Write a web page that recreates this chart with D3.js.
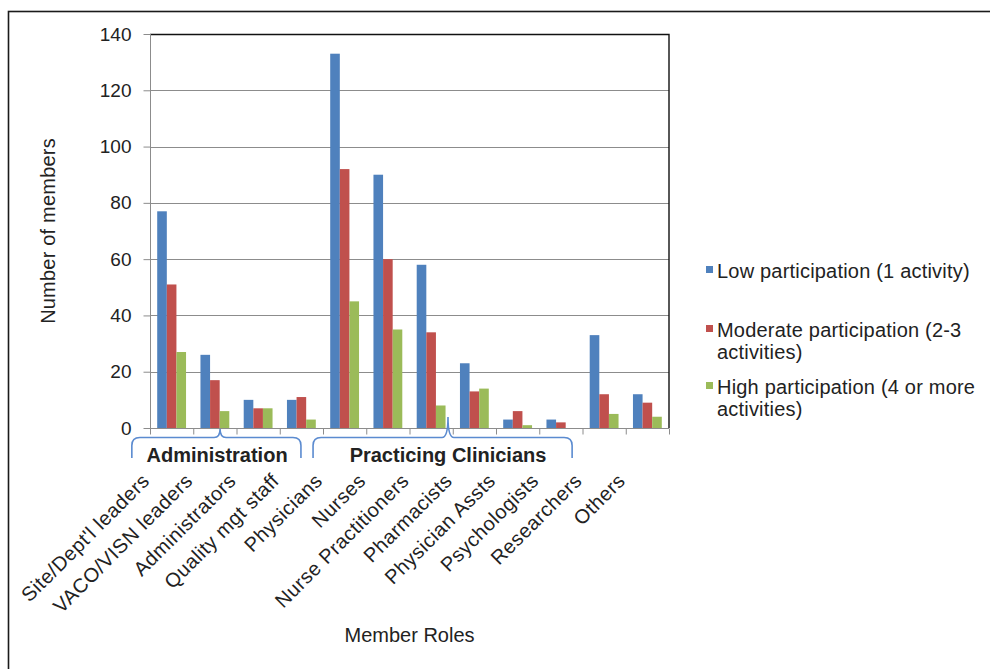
<!DOCTYPE html>
<html>
<head>
<meta charset="utf-8">
<script src="https://cdn.jsdelivr.net/npm/d3@7"></script>
<style>
  html, body { margin: 0; padding: 0; background: #fff; }
  svg { display: block; font-family: "Liberation Sans", Arial, sans-serif; }
</style>
</head>
<body>
<svg id="chart" width="990" height="669"></svg>
<script>
// Member roles along the category axis
const categories = [
  "Site/Dept'l leaders", "VACO/VISN leaders", "Administrators", "Quality mgt staff",
  "Physicians", "Nurses", "Nurse Practitioners", "Pharmacists",
  "Physician Assts", "Psychologists", "Researchers", "Others"
];

// Participation levels (series)
const seriesNames = ["low", "moderate", "high"];
const lowValues      = [77, 26, 10, 10, 133, 90, 58, 23, 3, 3, 33, 12];
const moderateValues = [51, 17,  7, 11,  92, 60, 34, 13, 6, 2, 12,  9];
const highValues     = [27,  6,  7,  3,  45, 35,  8, 14, 1, 0,  5,  4];

const legendLines = [
  ["Low participation (1 activity)"],
  ["Moderate participation (2-3", "activities)"],
  ["High participation (4 or more", "activities)"]
];

const yTicks = [0, 20, 40, 60, 80, 100, 120, 140];

// Role groupings shown as braces under the axis (positions in category units)
const groupNames = ["Administration", "Practicing Clinicians"];
const groupStart = [-0.42, 3.77];
const groupEnd   = [3.49, 9.76];
const groupPeak  = [1.62, 6.89];

const colors = { low: "#4F81BD", moderate: "#C0504D", high: "#9BBB59" };
const seriesValues = { low: lowValues, moderate: moderateValues, high: highValues };

const svg = d3.select("#chart");
const plotLeft = 150, plotRight = 669, plotTop = 34, plotBottom = 428;

// outer chart frame
svg.append("rect")
  .attr("x", 8.5).attr("y", 11.5)
  .attr("width", 1000).attr("height", 700)
  .attr("fill", "#fff").attr("stroke", "#1a1a1a").attr("stroke-width", 1.6);

const x = d3.scaleBand().domain(categories).range([plotLeft, plotRight]).padding(0);
const x1 = d3.scaleBand().domain(seriesNames).range([0, x.bandwidth()])
  .paddingInner(0).paddingOuter(0.75);
const xIdx = d3.scaleLinear().domain([0, categories.length]).range([plotLeft, plotRight]);
const y = d3.scaleLinear().domain([0, 140]).range([plotBottom, plotTop]);

// horizontal gridlines
svg.append("g").selectAll("line")
  .data(yTicks.filter(t => t > 0 && t < 140))
  .join("line")
  .attr("x1", plotLeft).attr("x2", plotRight)
  .attr("y1", d => Math.round(y(d)) + 0.5).attr("y2", d => Math.round(y(d)) + 0.5)
  .attr("stroke", "#8c8c8c").attr("stroke-width", 1);

// plot area border (top and right)
svg.append("path")
  .attr("d", `M${plotLeft},${Math.round(y(140)) + 0.5}H${plotRight}V${plotBottom}`)
  .attr("fill", "none").attr("stroke", "#111").attr("stroke-width", 1.4);

// bars
const groups = svg.append("g").selectAll("g")
  .data(categories)
  .join("g")
  .attr("transform", d => `translate(${x(d)},0)`);

groups.selectAll("rect")
  .data((c, i) => seriesNames.map(s => ({ s, v: seriesValues[s][i] })))
  .join("rect")
  .attr("x", d => x1(d.s))
  .attr("width", x1.bandwidth())
  .attr("y", d => y(d.v))
  .attr("height", d => plotBottom - y(d.v))
  .attr("fill", d => colors[d.s]);

// y axis
const yAxis = svg.append("g")
  .attr("transform", `translate(${plotLeft + 0.5},0)`)
  .call(d3.axisLeft(y).tickValues(yTicks).tickSize(7).tickPadding(12).tickFormat(d3.format("d")));
yAxis.select(".domain").attr("stroke", "#8c8c8c").attr("d", `M0,${plotTop}V${plotBottom + 6}`);
yAxis.selectAll(".tick line").attr("stroke", "#8c8c8c");
yAxis.selectAll(".tick text")
  .attr("font-size", 19).attr("fill", "#222")
  .attr("font-family", "Liberation Sans, Arial, sans-serif");

// x axis with tick marks between categories
const xAxis = svg.append("g")
  .attr("transform", `translate(0,${plotBottom + 0.5})`)
  .call(d3.axisBottom(xIdx).ticks(categories.length).tickSize(6).tickFormat(""));
xAxis.select(".domain").attr("stroke", "#8c8c8c").attr("d", `M${plotLeft},0H${plotRight}`);
xAxis.selectAll(".tick line").attr("stroke", "#8c8c8c");

// rotated category labels
svg.append("g").selectAll("text")
  .data(categories)
  .join("text")
  .attr("transform", d => `translate(${x(d) + x.bandwidth() / 2 - 21},482) rotate(-45)`)
  .attr("text-anchor", "end")
  .attr("font-size", 20)
  .attr("letter-spacing", 0.5)
  .attr("fill", "#222")
  .text(d => d);

// group braces
const uToX = u => xIdx(u);
const braces = svg.append("g");
groupNames.forEach((name, i) => {
  const x0 = uToX(groupStart[i]), x1b = uToX(groupEnd[i]), xp = uToX(groupPeak[i]);
  const yh = 437.5, yb = 458, yt = i === 0 ? 429 : 417;
  const d = `M${x0},${yb} L${x0},${yh + 8} Q${x0},${yh} ${x0 + 8},${yh}` +
            ` L${xp - 6},${yh} Q${xp},${yh} ${xp},${yt}` +
            ` Q${xp},${yh} ${xp + 6},${yh} L${x1b - 8},${yh}` +
            ` Q${x1b},${yh} ${x1b},${yh + 8} L${x1b},${yb}`;
  braces.append("path").attr("d", d)
    .attr("fill", "none").attr("stroke", "#5b8bd0").attr("stroke-width", 1.6);
});
braces.selectAll("text")
  .data(groupNames)
  .join("text")
  .attr("x", (d, i) => uToX(groupPeak[i]) - (i === 0 ? 3 : 0))
  .attr("y", 462)
  .attr("text-anchor", "middle")
  .attr("font-size", 20)
  .attr("font-weight", "bold")
  .attr("fill", "#222")
  .text(d => d);

// axis titles
svg.append("text")
  .attr("transform", `translate(55,${(plotTop + plotBottom) / 2}) rotate(-90)`)
  .attr("text-anchor", "middle")
  .attr("font-size", 20).attr("letter-spacing", 0.2).attr("fill", "#222")
  .text("Number of members");

svg.append("text")
  .attr("x", (plotLeft + plotRight) / 2).attr("y", 642)
  .attr("text-anchor", "middle")
  .attr("font-size", 20).attr("fill", "#222")
  .text("Member Roles");

// legend
const legendBase = [278, 337, 394];
const legend = svg.append("g").selectAll("g")
  .data(seriesNames)
  .join("g")
  .attr("transform", (d, i) => `translate(706,${legendBase[i]})`);
legend.append("rect")
  .attr("x", 0).attr("y", -12).attr("width", 7).attr("height", 7)
  .attr("fill", d => colors[d]);
legend.append("text")
  .attr("font-size", 20).attr("letter-spacing", 0.2).attr("fill", "#222")
  .selectAll("tspan")
  .data((d, i) => legendLines[i])
  .join("tspan")
  .attr("x", 11)
  .attr("y", (d, j) => j * 22)
  .text(d => d);
</script>
</body>
</html>
